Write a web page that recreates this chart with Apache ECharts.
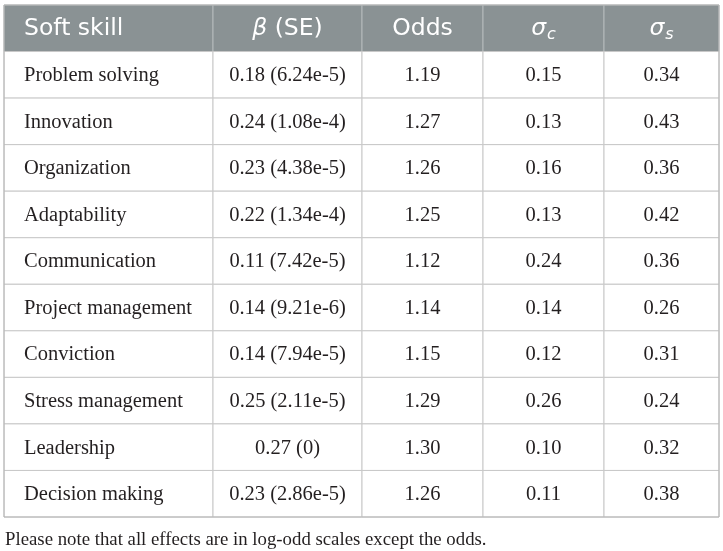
<!DOCTYPE html>
<html>
<head>
<meta charset="utf-8">
<script src="https://cdn.jsdelivr.net/npm/echarts@6/dist/echarts.min.js"></script>
<style>
  html, body { margin: 0; padding: 0; background: #fff; }
  #Tbl { width: 723px; height: 551px; }
</style>
</head>
<body>
<div id="Tbl"></div>
<script>
// table content
const headers = ['Soft skill', '{i|β} (SE)', 'Odds', '{i|σ}{sub|c}', '{i|σ}{sub|s}'];
const skills = ['Problem solving', 'Innovation', 'Organization', 'Adaptability', 'Communication',
  'Project management', 'Conviction', 'Stress management', 'Leadership', 'Decision making'];
const betas = ['0.18', '0.24', '0.23', '0.22', '0.11', '0.14', '0.14', '0.25', '0.27', '0.23'];
const stdErrs = ['6.24e-5', '1.08e-4', '4.38e-5', '1.34e-4', '7.42e-5', '9.21e-6', '7.94e-5', '2.11e-5', '0', '2.86e-5'];
const odds = ['1.19', '1.27', '1.26', '1.25', '1.12', '1.14', '1.15', '1.29', '1.30', '1.26'];
const sigmaC = ['0.15', '0.13', '0.16', '0.13', '0.24', '0.14', '0.12', '0.26', '0.10', '0.11'];
const sigmaS = ['0.34', '0.43', '0.36', '0.42', '0.36', '0.26', '0.31', '0.24', '0.32', '0.38'];
const footnote = 'Please note that all effects are in log-odd scales except the odds.';

// column edges along the x value axis (layout only)
const colEdges = [0, 209, 358, 479, 600, 715];

const rowNames = ['header'].concat(skills);

const cells = [];
headers.forEach((h, c) => cells.push({ value: [c, 0], text: h }));
skills.forEach((s, i) => {
  const row = [s, betas[i] + ' (' + stdErrs[i] + ')', odds[i], sigmaC[i], sigmaS[i]];
  row.forEach((t, c) => cells.push({ value: [c, i + 1], text: t }));
});

const headFont = 'DejaVu Sans';
const bodyFont = 'Liberation Serif';

const renderCell = (params, api) => {
  const c = api.value(0);
  const r = api.value(1);
  const cell = cells[params.dataIndex];
  const p0 = api.coord([colEdges[c], r]);
  const p1 = api.coord([colEdges[c + 1], r]);
  const h = api.size([0, 1])[1];
  const isHead = r === 0;
  return {
    type: 'group',
    children: [
      {
        type: 'rect',
        shape: { x: p0[0], y: p0[1] - h / 2, width: p1[0] - p0[0], height: h },
        style: { fill: isHead ? '#8a9294' : '#fff', stroke: isHead ? '#b4babb' : '#c8c8c8', lineWidth: 1 }
      },
      {
        type: 'text',
        x: c === 0 ? p0[0] + 20 : (p0[0] + p1[0]) / 2,
        y: p0[1] + 1,
        style: {
          text: cell.text,
          fill: isHead ? '#fff' : '#231f20',
          fontFamily: isHead ? headFont : bodyFont,
          fontSize: isHead ? 23.5 : 20.5,
          align: c === 0 ? 'left' : 'center',
          verticalAlign: 'middle',
          rich: {
            i: { fontStyle: 'italic', fontFamily: headFont, fontSize: 23.5, fill: '#fff', lineHeight: 28 },
            sub: { fontStyle: 'italic', fontFamily: headFont, fontSize: 16, fill: '#fff', verticalAlign: 'bottom', padding: [10, 0, 0, 1] }
          }
        }
      }
    ]
  };
};

const grafica = echarts.init(document.querySelector('#Tbl'));
grafica.setOption({
  animation: false,
  title: {
    text: footnote,
    left: 0,
    top: 526,
    textStyle: { fontFamily: bodyFont, fontSize: 18.8, fontWeight: 'normal', color: '#231f20' }
  },
  grid: { left: 4, top: 5, width: 715, height: 512, show: true, z: 10, borderColor: '#b4b4b4', borderWidth: 1, backgroundColor: 'transparent' },
  xAxis: { type: 'value', min: 0, max: 715, show: false },
  yAxis: { type: 'category', data: rowNames, inverse: true, show: false },
  series: [{
    type: 'custom',
    renderItem: renderCell,
    data: cells.map(d => d.value),
    clip: false
  }]
});
</script>
</body>
</html>
